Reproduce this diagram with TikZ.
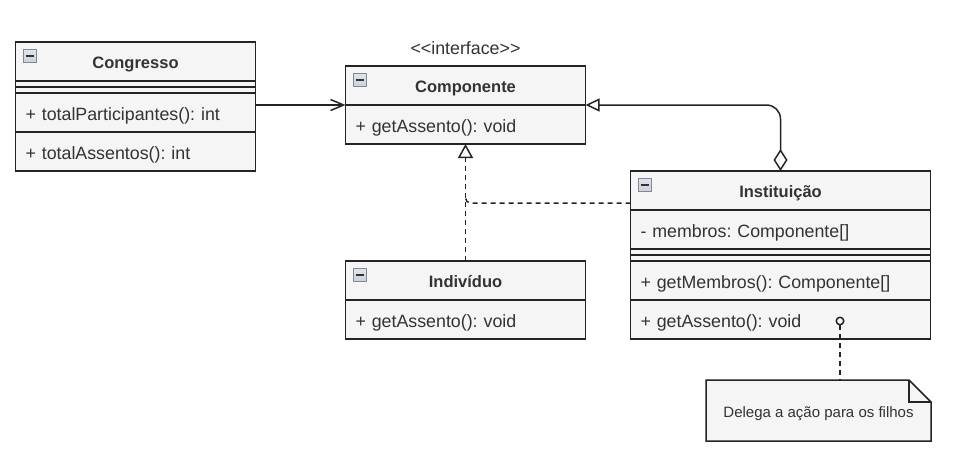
\documentclass[tikz,border=0pt]{standalone}
\usepackage{fontspec}
\setmainfont{Liberation Sans}
\usetikzlibrary{arrows.meta, positioning, backgrounds}
\definecolor{umlfill}{HTML}{F5F5F5}
\definecolor{umltext}{HTML}{333333}
\definecolor{umlline}{HTML}{242424}
\definecolor{iconedge}{HTML}{7E8A98}
\definecolor{iconlight}{HTML}{ECEEF2}
\definecolor{icondark}{HTML}{B0B6C0}
\frenchspacing

\begin{document}
\begin{tikzpicture}[
    x=1pt, y=-1pt,
    every node/.style={outer sep=0pt, text=umltext, text height=16pt, text depth=1pt},
    head/.style={draw=umlline, fill=umlfill, line width=1.5pt, text width=#1, align=center,
        minimum height=39pt, inner xsep=10pt, text height=14.6pt, font=\fontsize{16.5}{20}\selectfont\bfseries,
        path picture={
            \draw[draw=iconedge, top color=iconlight, bottom color=icondark, line width=0.8pt]
                ([shift={(7.5,7.5)}]path picture bounding box.north west) rectangle ++(13,13);
            \draw[draw=umltext, line width=2pt]
                ([shift={(10,14)}]path picture bounding box.north west) -- ++(8,0);
        }},
    mrow/.style={draw=umlline, fill=umlfill, line width=1.5pt, text width=#1, align=left,
        minimum height=39pt, inner xsep=10pt, font=\fontsize{17.8}{21}\selectfont},
    sepbar/.style={draw=umlline, fill=umlfill, line width=1.5pt, minimum width=#1,
        minimum height=12pt, inner sep=0pt, text height=0pt, text depth=0pt},
    notebox/.style={minimum width=225pt, minimum height=61pt, text height=14pt,
        font=\fontsize{15}{18}\selectfont},
    assoc/.style={draw=umlline, line width=1.5pt, -{Straight Barb[length=13pt, width=11pt]}},
    aggr/.style={draw=umlline, line width=1.5pt, rounded corners=14pt,
        {Diamond[open, length=22pt, width=14pt]}-{Triangle[open, fill=white, length=14pt, width=13pt]}},
    realize/.style={draw=umlline, line width=1.5pt, dash pattern=on 5pt off 4pt, rounded corners=5pt},
    notelink/.style={draw=umlline, line width=1.5pt, dash pattern=on 5pt off 4pt,
        {Circle[open, length=9pt, width=9pt]}-}
]
    \useasboundingbox (0,0) rectangle (958,469);

    % Congresso
    \node[head=220pt] (congresso) at (135.5,61.5) {Congresso};
    \node[sepbar=240pt, below=0pt of congresso] (congresso-sep) {};
    \node[mrow=220pt, below=0pt of congresso-sep] (congresso-m1) {+ totalParticipantes(): int};
    \node[mrow=220pt, below=0pt of congresso-m1] (congresso-m2) {+ totalAssentos(): int};
    \draw[draw=umlline, line width=1.5pt] (congresso-sep.west) -- (congresso-sep.east);

    % Componente
    \node[font=\fontsize{17.8}{21}\selectfont] (stereo) at (465.5,47)
        {\textless\kern0pt\textless interface\textgreater\kern0pt\textgreater};
    \node[head=220pt] (componente) at (465.5,85.5) {Componente};
    \node[mrow=220pt, below=0pt of componente] (componente-m) {+ getAssento(): void};

    % Individuo
    \node[head=220pt] (individuo) at (465.5,280.5) {Indivíduo};
    \node[mrow=220pt, below=0pt of individuo] (individuo-m) {+ getAssento(): void};

    % Instituicao
    \node[head=280pt] (instituicao) at (780.5,190.5) {Instituição};
    \node[mrow=280pt, below=0pt of instituicao] (instituicao-a) {- membros: Componente[]};
    \node[sepbar=300pt, below=0pt of instituicao-a] (instituicao-sep) {};
    \node[mrow=280pt, below=0pt of instituicao-sep] (instituicao-m1) {+ getMembros(): Componente[]};
    \node[mrow=280pt, below=0pt of instituicao-m1] (instituicao-m2) {+ getAssento(): void};
    \draw[draw=umlline, line width=1.5pt] (instituicao-sep.west) -- (instituicao-sep.east);

    % Note
    \node[notebox] (note) at (818.5,410.5) {Delega a ação para os filhos};
    \begin{scope}[on background layer]
        \draw[draw=umlline, fill=umlfill, line width=1.5pt] (note.south west) -- (note.north west)
            -- ([xshift=-22pt]note.north east) -- ([yshift=-22pt]note.north east) -- (note.south east) -- cycle;
    \end{scope}
    \draw[draw=umlline, line width=1.5pt] ([xshift=-22pt]note.north east)
        -- ([shift={(-22pt,-22pt)}]note.north east) -- ([yshift=-22pt]note.north east);

    % Connections
    \coordinate (join) at (465.5,197);
    \coordinate (dot) at (840,316.5);
    \draw[assoc] (congresso-m1.east |- componente.south west) -- (componente.south west);
    \draw[aggr] (instituicao.north) -- (instituicao.north |- componente.south east) -- (componente.south east);
    \draw[realize] ([yshift=7pt]instituicao.south west) -| (join);
    \draw[realize, -{Triangle[open, fill=white, length=14pt, width=15pt]}] (individuo.north) -- (componente-m.south);
    \draw[notelink] (dot) -- (dot |- note.north);
\end{tikzpicture}
\end{document}
